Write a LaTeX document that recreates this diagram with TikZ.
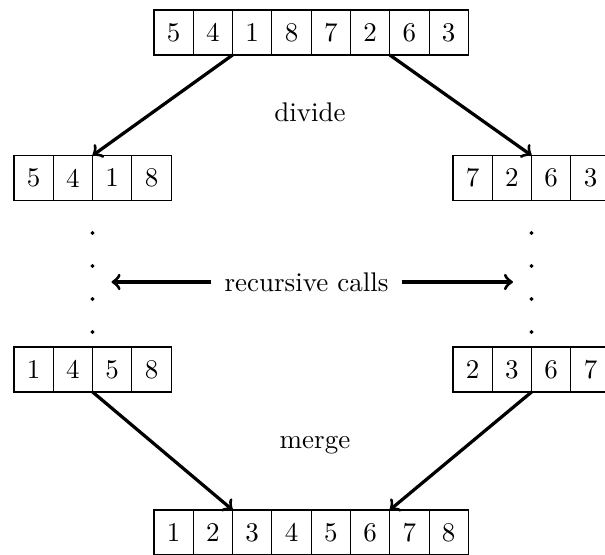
\documentclass[tikz,border=0pt]{standalone}
\usepackage{amsmath}
\usepackage{amssymb}
\usetikzlibrary{positioning}

\begin{document}
\begin{tikzpicture}[x=0.37025pt, y=-0.37025pt,
	cell/.style={draw, minimum width=14.55pt, minimum height=16.66pt, inner sep=0pt, outer sep=0pt},
	arrow/.style={->, very thick}]
	% Fix the frame
	\useasboundingbox (0,0) rectangle (605,555);

	% Draw the unsorted array
	\node[cell] (top1) at (173.65,32.5) {5};
	\node[cell, right=0pt of top1] (top2) {4};
	\node[cell, right=0pt of top2] (top3) {1};
	\node[cell, right=0pt of top3] (top4) {8};
	\node[cell, right=0pt of top4] (top5) {7};
	\node[cell, right=0pt of top5] (top6) {2};
	\node[cell, right=0pt of top6] (top7) {6};
	\node[cell, right=0pt of top7] (top8) {3};

	% Draw the two halves
	\node[cell] (left1) at (33.65,178) {5}; % left
	\node[cell, right=0pt of left1] (left2) {4};
	\node[cell, right=0pt of left2] (left3) {1};
	\node[cell, right=0pt of left3] (left4) {8};
	\node[cell] (right1) at (472.65,178) {7}; % right
	\node[cell, right=0pt of right1] (right2) {2};
	\node[cell, right=0pt of right2] (right3) {6};
	\node[cell, right=0pt of right3] (right4) {3};

	% Draw the two sorted halves
	\node[cell] (lsort1) at (33.65,369.5) {1}; % left
	\node[cell, right=0pt of lsort1] (lsort2) {4};
	\node[cell, right=0pt of lsort2] (lsort3) {5};
	\node[cell, right=0pt of lsort3] (lsort4) {8};
	\node[cell] (rsort1) at (472.65,369.5) {2}; % right
	\node[cell, right=0pt of rsort1] (rsort2) {3};
	\node[cell, right=0pt of rsort2] (rsort3) {6};
	\node[cell, right=0pt of rsort3] (rsort4) {7};

	% Draw the sorted array
	\node[cell] (bot1) at (173.65,532.5) {1};
	\node[cell, right=0pt of bot1] (bot2) {2};
	\node[cell, right=0pt of bot2] (bot3) {3};
	\node[cell, right=0pt of bot3] (bot4) {4};
	\node[cell, right=0pt of bot4] (bot5) {5};
	\node[cell, right=0pt of bot5] (bot6) {6};
	\node[cell, right=0pt of bot6] (bot7) {7};
	\node[cell, right=0pt of bot7] (bot8) {8};

	% Divide and merge
	\draw[arrow] (top2.south east) -- (left2.north east);
	\draw[arrow] (top6.south east) -- (right2.north east);
	\node (divide) at (310,112) {divide};
	\draw[arrow] (lsort2.south east) -- (bot2.north east);
	\draw[arrow] (rsort2.south east) -- (bot6.north east);
	\node (merge) at (315,445) {merge};

	% Draw the dots
	\filldraw (92.6,233) circle (0.5pt); % left
	\filldraw (92.6,266) circle (0.5pt);
	\filldraw (92.6,299) circle (0.5pt);
	\filldraw (92.6,332) circle (0.5pt);
	\filldraw (531.6,233) circle (0.5pt); % right
	\filldraw (531.6,266) circle (0.5pt);
	\filldraw (531.6,299) circle (0.5pt);
	\filldraw (531.6,332) circle (0.5pt);

	% Label the recursive calls
	\node (calls) at (306.5,282) {recursive calls};
	\coordinate (callsl) at (111.5,282);
	\coordinate (callsr) at (513,282);
	\draw[arrow, shorten <=1.3pt] (calls.west) -- (callsl);
	\draw[arrow, shorten <=1.3pt] (calls.east) -- (callsr);
\end{tikzpicture}
\end{document}
